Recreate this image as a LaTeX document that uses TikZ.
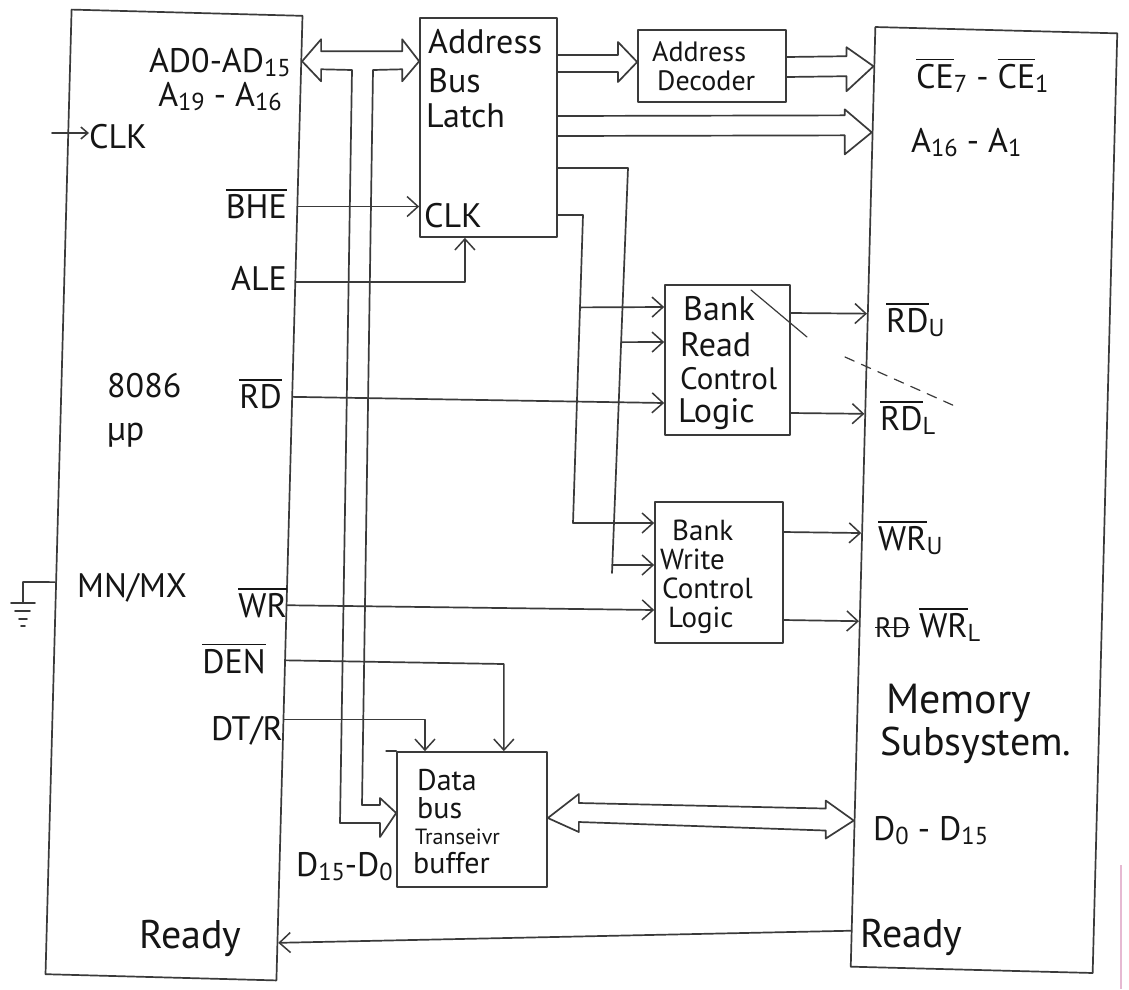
\documentclass[tikz,border=0pt]{standalone}
\usepackage{fontspec}
\usepackage{graphicx}
\setmainfont{PT Sans}
\usetikzlibrary{arrows.meta,calc}
\definecolor{ink}{HTML}{151515}
\definecolor{penc}{HTML}{3A3A3A}
\definecolor{pinkm}{RGB}{230,185,210}
\newcommand\ovl[1]{\setbox0\hbox{#1}\rlap{\raisebox{\dimexpr\ht0+0.1em\relax}{\rule{\wd0}{1.5pt}}}\copy0}
\newcommand\subt[1]{\raisebox{-0.12em}{\scalebox{0.72}{#1}}}
\newcommand\strike[1]{\setbox0\hbox{#1}\copy0\kern-\wd0\rule[0.32em]{\wd0}{1.5pt}}
\newcommand\cpuR[2]{\coordinate (#1) at ($(cpu.north east)!{(#2-15.8)/964.6}!(cpu.south east)$);}
\newcommand\cpuL[2]{\coordinate (#1) at ($(cpu.north west)!{(#2-9.6)/964.6}!(cpu.south west)$);}
\newcommand\memL[2]{\coordinate (#1) at ($(mem.north west)!{(#2-27)/939.7}!(mem.south west)$);}
\begin{document}
\begin{tikzpicture}[x=1pt,y=-1pt,
  wire/.style={draw=penc, line width=1.7pt, line cap=round, line join=round},
  blk/.style={wire, rectangle, inner sep=0pt},
  barb/.style={-{Straight Barb[length=11pt,width=20pt,line width=1.5pt]}},
  smallbarb/.style={-{Straight Barb[length=7pt,width=12pt,line width=1.5pt]}},
  lbl/.style={inner sep=0pt, text=ink, font=\fontsize{34}{40}\selectfont},
  wlbl/.style={lbl, font=\fontsize{29}{32}\selectfont},
  dlbl/.style={lbl, font=\fontsize{30}{32}\selectfont},
]
\useasboundingbox (0,0) rectangle (1129,989);
\fill[white] (0,0) rectangle (1129,989);

% ---------- blocks ----------
\node[blk, rotate=-1.55, minimum width=231pt, minimum height=965pt] (cpu) at (174,495) {};
\node[blk, rotate=-1.5, minimum width=242pt, minimum height=940pt] (mem) at (984,500) {};
\node[blk, minimum width=137pt, minimum height=219pt] (latch) at (488.5,127.5) {};
\node[blk, minimum width=148pt, minimum height=72pt] (dec) at (712,66) {};
\node[blk, minimum width=125pt, minimum height=150pt] (read) at (727.5,360) {};
\node[blk, minimum width=128pt, minimum height=141pt] (write) at (719,572.5) {};
\node[blk, minimum width=150pt, minimum height=135pt] (data) at (472,819.5) {};
\draw[wire] (data.north west) -- ++(-10,0);

% ---------- texts : 8086 ----------
\node[lbl, anchor=base east] (tAD) at (291,72) {AD0-AD\subt{15}};
\node[lbl, anchor=base east] (tA19) at (282,106) {A\subt{19} - A\subt{16}};
\node[lbl, anchor=base west] (clk) at (89,148) {CLK};
\node[lbl, anchor=base east] (tBHE) at (287,218) {\ovl{BHE}};
\node[lbl, anchor=base east] (tALE) at (287,290) {ALE};
\node[lbl, anchor=base west] (t8086) at (107,397) {8086};
\node[lbl, anchor=base west] (tup) at (107,440) {µp};
\node[lbl, anchor=base east] (tRD) at (282,408) {\ovl{RD}};
\node[lbl, anchor=base west] (tMN) at (77,597) {MN/MX};
\node[lbl, anchor=base east] (tWR) at (287,617) {\ovl{WR}};
\node[lbl, anchor=base east] (tDEN) at (266,673) {\ovl{DEN}};
\node[lbl, anchor=base east] (tDTR) at (283,740) {DT/R};
\node[lbl, anchor=base east] (tD15) at (393,876) {D\subt{15}-D\subt{0}};
\node[lbl, anchor=base west, font=\fontsize{40}{44}\selectfont] (tRdyL) at (139,948) {Ready};

% ---------- texts : latch, decoder ----------
\node[lbl, anchor=base west] (tL1) at (428,53) {Address};
\node[lbl, anchor=base west] (tL2) at (428,92) {Bus};
\node[lbl, anchor=base west] (tL3) at (426,127) {Latch};
\node[lbl, anchor=base west] (tLclk) at (424,227) {CLK};
\node[lbl, anchor=base west, font=\fontsize{28}{30}\selectfont] (tD1) at (652,61) {Address};
\node[lbl, anchor=base west, font=\fontsize{28}{30}\selectfont] (tD2) at (657,90) {Decoder};

% ---------- texts : control logic ----------
\node[lbl, anchor=base west] (tR1) at (683,320) {Bank};
\node[lbl, anchor=base west] (tR2) at (680,356) {Read};
\node[lbl, anchor=base west, font=\fontsize{31}{36}\selectfont] (tR3) at (680,389) {Control};
\node[lbl, anchor=base west] (tR4) at (678,422) {Logic};
\node[wlbl, anchor=base west] (tW1) at (672,540) {Bank};
\node[wlbl, anchor=base west] (tW2) at (660,569) {Write};
\node[wlbl, anchor=base west] (tW3) at (662,598) {Control};
\node[wlbl, anchor=base west] (tW4) at (668,627) {Logic};

% ---------- texts : data buffer ----------
\node[dlbl, anchor=base west] (tB1) at (417,790) {Data};
\node[dlbl, anchor=base west] (tB2) at (417,818) {bus};
\node[lbl, anchor=base west, font=\fontsize{22}{24}\selectfont] (tB3) at (415,844) {Transeivr};
\node[dlbl, anchor=base west] (tB4) at (413,873) {buffer};

% ---------- texts : memory ----------
\node[lbl, anchor=base west] (tCE) at (916,88) {\ovl{CE}\subt{7} - \ovl{CE}\subt{1}};
\node[lbl, anchor=base west] (tA16) at (911,152) {A\subt{16} - A\subt{1}};
\node[lbl, anchor=base west] (tRDU) at (886,332) {\ovl{RD}\subt{U}};
\node[lbl, anchor=base west] (tRDL) at (880,430) {\ovl{RD}\subt{L}};
\node[lbl, anchor=base west] (tWRU) at (878,550) {\ovl{WR}\subt{U}};
\node[lbl, anchor=base west] (tWRL) at (875,637) {{\fontsize{28}{30}\selectfont\strike{RD}} \ovl{WR}\subt{L}};
\node[lbl, anchor=base west, font=\fontsize{42}{46}\selectfont] (tMem) at (886,713) {Memory};
\node[lbl, anchor=base west, font=\fontsize{40}{44}\selectfont] (tSub) at (880,755) {Subsystem.};
\node[lbl, anchor=base west] (tD0) at (873,840) {D\subt{0} - D\subt{15}};
\node[lbl, anchor=base west, font=\fontsize{40}{44}\selectfont] (tRdyR) at (860,947) {Ready};

% ---------- edge coordinates ----------
\cpuR{cAD}{62}
\cpuR{cBHE}{207}
\cpuR{cALE}{282}
\cpuR{cRD}{397}
\cpuR{cWR}{605}
\cpuR{cDEN}{660}
\cpuR{cDTR}{719}
\cpuR{cRDY}{942}
\cpuL{cGND}{582}
\memL{mCE}{67}
\memL{mA}{133}
\memL{mRDU}{314}
\memL{mRDL}{414}
\memL{mWRU}{533}
\memL{mWRL}{621}
\memL{mD}{820}
\memL{mRDY}{930}

% ---------- AD bus (double arrow with branch to data buffer) ----------
\coordinate (adR) at (latch.west |- cAD);
\coordinate (dataL) at (data.west |- 0,813);
\draw[wire] (cAD) -- ++(19,-22) -- ++(0,12) -- ($(adR)+(-17,-10)$) -- ++(0,-12) -- (adR)
  -- ++(-17,20) -- ++(0,-12) -- (373,70) -- (362,805) -- (380,805) -- ++(0,-7) -- (dataL)
  -- (380,837) -- ++(0,-14) -- (340,823) -- (352,70) -- ($(cAD)+(19,8)$) -- ++(0,12) -- cycle;

% ---------- latch -> decoder ----------
\coordinate (decL) at (dec.west |- 0,62);
\draw[wire] (latch.east |- 0,55) -- (618,55) -- (618,42) -- (decL) -- (618,82) -- (618,72) -- (latch.east |- 0,72);
% ---------- decoder -> memory ----------
\draw[wire] (dec.east |- 0,57) -- ($(mCE)+(-27,-10)$) -- ++(0,-9) -- (mCE) -- ++(-27,25) -- ++(0,-15) -- (dec.east |- 0,77);
% ---------- latch -> memory ----------
\draw[wire] (latch.east |- 0,116) -- ($(mA)+(-27,-17)$) -- ++(0,-6) -- (mA) -- ++(-27,22) -- ++(0,-19) -- (latch.east |- 0,136);
% ---------- data buffer <-> memory ----------
\coordinate (dR) at (data.east |- 0,818);
\draw[wire] (dR) -- ++(31,-24) -- ++(0,9) -- ($(mD)+(-28,-12)$) -- ++(0,-8) -- (mD) -- ++(-28,18) -- ++(0,-8)
  -- ($(dR)+(31,4)$) -- ++(0,10) -- cycle;

% ---------- control signals ----------
\coordinate (clkIn) at (52,133);
\draw[wire,smallbarb] (clkIn) -- (clk.west |- clkIn);
\draw[wire,barb] (cBHE) -- (latch.west |- cBHE);
\coordinate (aleIn) at ($(latch.south west)!0.33!(latch.south east)$);
\draw[wire,barb] (cALE) -| (aleIn);
\draw[wire,barb] (cRD) -- (read.west |- 0,403);
\draw[wire,barb] (cWR) -- (write.west |- 0,610);
\coordinate (denIn) at ($(data.north west)!0.71!(data.north east)$);
\coordinate (dtrIn) at ($(data.north west)!0.19!(data.north east)$);
\draw[wire,barb] (cDEN) -- (denIn |- 0,664) -- (denIn);
\draw[wire,barb] (cDTR) -- (dtrIn |- cDTR) -- (dtrIn);
\draw[wire,barb] (mRDY) -- (cRDY);

% latch -> bank logic
\coordinate (v1a) at (583,215);
\coordinate (v1b) at (573,523);
\coordinate (v2a) at (628,168);
\coordinate (v2b) at (612,573);
\draw[wire,barb] (latch.east |- v1a) -- (v1a) -- (v1b) -- (write.west |- v1b);
\draw[wire,barb] ($(v1a)!0.3!(v1b)$) -- (read.west |- 0,307);
\draw[wire] (latch.east |- v2a) -- (v2a) -- (v2b);
\draw[wire,barb] ($(v2a)!0.43!(v2b)$) -- (read.west |- 0,342);
\draw[wire,barb] ($(v2a)!0.98!(v2b)$) -- (write.west |- 0,565);

% bank logic -> memory
\draw[wire,barb] (read.east |- 0,313) -- (mRDU);
\draw[wire,barb] (read.east |- 0,413) -- (mRDL);
\draw[wire,barb] (write.east |- 0,532) -- (mWRU);
\draw[wire,barb] (write.east |- 0,620) -- (mWRL);

% ground on MN/MX
\draw[wire] (cGND) -- (23,582) -- (23,603);
\draw[wire] (11,603) -- (35,603) (15,611) -- (30,611) (19,619) -- (27,619) (21,626) -- (25,626);

% stray strike line
\draw[wire, line width=1.2pt] (751,290) -- (807,337);
\draw[wire, line width=1.2pt, dash pattern=on 10pt off 8pt] (845,357) -- (957,407);

% margin mark
\draw[draw=pinkm, line width=2pt] (1121,865) -- (1121,989);
\end{tikzpicture}
\end{document}
